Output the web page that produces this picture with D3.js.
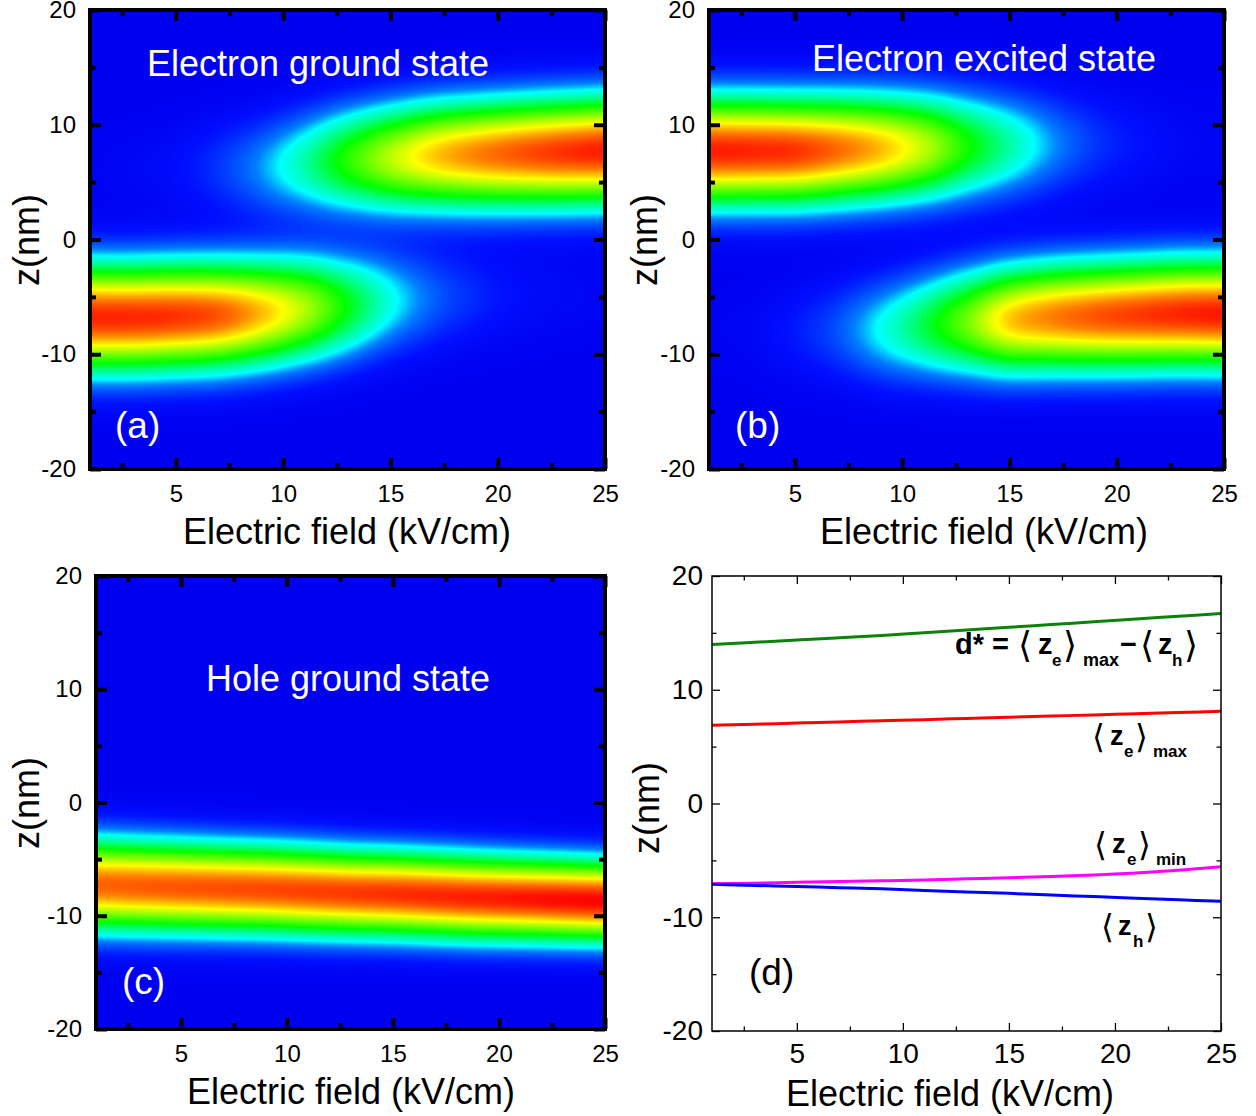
<!DOCTYPE html>
<html><head><meta charset="utf-8">
<script src="https://cdn.jsdelivr.net/npm/d3@7"></script>
<style>
body{margin:0;background:#fff}
svg{display:block}
text{font-family:"Liberation Sans",Arial,Helvetica,sans-serif}
</style>
</head><body>
<svg id="chart" width="1256" height="1116"></svg>
<script>
// ---------------- DATA ----------------
const fieldKV = [1, 3, 5, 7, 9, 11, 13, 15, 17, 19, 21, 23, 25];

// (a) Electron ground state: lower-well and upper-well lobes (peak density, centre z, width)
const aLowerAmp = [0.95, 0.945, 0.93, 0.88, 0.74, 0.56, 0.34, 0.17, 0.08, 0.04, 0.02, 0.012, 0.008];
const aLowerZ   = [-6.8, -6.8, -6.7, -6.6, -6.4, -6.1, -5.8, -5.4, -5.1, -4.9, -4.8, -4.7, -4.6];
const aUpperAmp = [0.005, 0.01, 0.02, 0.05, 0.11, 0.22, 0.39, 0.57, 0.72, 0.815, 0.88, 0.93, 0.96];
const aUpperZ   = [6.0, 6.0, 6.1, 6.2, 6.3, 6.6, 6.9, 7.1, 7.3, 7.4, 7.5, 7.6, 7.7];
const aWidth    = [2.8, 2.8, 2.8, 2.8, 2.8, 2.8, 2.8, 2.8, 2.8, 2.8, 2.8, 2.8, 2.8];

// (b) Electron excited state
const bUpperAmp = [0.96, 0.95, 0.93, 0.85, 0.74, 0.58, 0.37, 0.22, 0.11, 0.05, 0.025, 0.012, 0.008];
const bUpperZ   = [7.7, 7.7, 7.7, 7.8, 7.9, 8.0, 8.1, 8.2, 8.3, 8.4, 8.4, 8.4, 8.4];
const bLowerAmp = [0.005, 0.01, 0.03, 0.07, 0.16, 0.29, 0.48, 0.72, 0.82, 0.88, 0.92, 0.95, 0.97];
const bLowerZ   = [-8.0, -8.0, -8.0, -7.9, -7.8, -7.5, -7.2, -7.0, -6.8, -6.7, -6.6, -6.5, -6.5];
const bWidth    = [2.8, 2.8, 2.8, 2.8, 2.8, 2.8, 2.8, 2.8, 2.8, 2.8, 2.8, 2.8, 2.8];

// (c) Hole ground state
const cAmp   = [0.86, 0.87, 0.88, 0.89, 0.90, 0.91, 0.92, 0.935, 0.95, 0.96, 0.975, 0.99, 1.0];
const cZ     = [-7.3, -7.4, -7.5, -7.6, -7.7, -7.85, -8.0, -8.1, -8.25, -8.4, -8.5, -8.6, -8.7];
const cWidth = [2.4, 2.38, 2.36, 2.33, 2.31, 2.29, 2.26, 2.24, 2.22, 2.2, 2.17, 2.15, 2.13];

// (d) mean positions (nm)
const dStar = [13.97, 14.17, 14.37, 14.57, 14.77, 15.02, 15.26, 15.49, 15.74, 15.97, 16.22, 16.46, 16.7];
const zeMax = [6.87, 6.97, 7.07, 7.17, 7.27, 7.37, 7.48, 7.59, 7.69, 7.79, 7.90, 8.00, 8.10];
const zeMin = [-7.05, -7.0, -6.92, -6.86, -6.8, -6.72, -6.62, -6.52, -6.42, -6.28, -6.1, -5.87, -5.57];
const zh    = [-7.1, -7.2, -7.3, -7.4, -7.5, -7.65, -7.78, -7.9, -8.05, -8.18, -8.32, -8.46, -8.6];

// ticks
const xMajor = [5, 10, 15, 20, 25];
const xMinor = [2.5, 7.5, 12.5, 17.5, 22.5];
const yMajor = [-20, -10, 0, 10, 20];
const yMinor = [-15, -5, 5, 15];

// colour map (jet-like rainbow)
const cmapStops  = [0, 0.025, 0.1, 0.15, 0.346, 0.655, 0.815, 1.0];
const cmapColors = ["#0000f0", "#0010ff", "#0080ff", "#00ffff", "#00ff00", "#ffff00", "#ff8000", "#ff0000"];

// ---------------- DRAWING ----------------
const svg = d3.select("#chart");
const FONT = '"Liberation Sans",Arial,Helvetica,sans-serif';
const color = d3.scaleLinear().domain(cmapStops).range(cmapColors).clamp(true);
const LUT = d3.range(1001).map(i => d3.rgb(color(i / 1000)));

function smoothAt(arr, E) {
  const t = (E - fieldKV[0]) / (fieldKV[1] - fieldKV[0]);
  let i = Math.floor(t);
  if (i < 0) i = 0;
  if (i > arr.length - 2) i = arr.length - 2;
  const u = Math.min(Math.max(t - i, 0), 1);
  const p0 = arr[Math.max(i - 1, 0)], p1 = arr[i], p2 = arr[i + 1], p3 = arr[Math.min(i + 2, arr.length - 1)];
  return 0.5 * (2 * p1 + (-p0 + p2) * u + (2 * p0 - 5 * p1 + 4 * p2 - p3) * u * u + (-p0 + 3 * p1 - 3 * p2 + p3) * u * u * u);
}

function drawHeat(g, x, y, lobes) {
  const [x0, x1] = x.range();
  const yb = y.range()[0], yt = y.range()[1];
  const w = Math.round(x1 - x0), h = Math.round(yb - yt);
  const cv = document.createElement("canvas");
  cv.width = w; cv.height = h;
  const ctx = cv.getContext("2d");
  const img = ctx.createImageData(w, h);
  for (let i = 0; i < w; i++) {
    const E = x.invert(x0 + i + 0.5);
    const pars = lobes.map(l => ({
      a: Math.max(0, smoothAt(l.amp, E)),
      c: smoothAt(l.center, E),
      s: smoothAt(l.width, E)
    }));
    for (let j = 0; j < h; j++) {
      const z = y.invert(yt + j + 0.5);
      let v = 0;
      for (const p of pars) { const d = z - p.c; v += p.a * Math.exp(-d * d / (2 * p.s * p.s)); }
      const c = LUT[Math.max(0, Math.min(1000, Math.round(v * 1000)))];
      const k = (j * w + i) * 4;
      img.data[k] = c.r; img.data[k + 1] = c.g; img.data[k + 2] = c.b; img.data[k + 3] = 255;
    }
  }
  ctx.putImageData(img, 0, 0);
  g.append("image").attr("x", x0).attr("y", yt).attr("width", w).attr("height", h)
    .attr("preserveAspectRatio", "none").attr("href", cv.toDataURL());
}

function drawAxes(g, x, y, o) {
  const [x0, x1] = x.range();
  const yb = y.range()[0], yt = y.range()[1];
  const fmt = d => String(d);
  const style = sel => {
    sel.select(".domain").remove();
    sel.selectAll("line").attr("stroke", "#000").attr("stroke-width", o.tickW);
    sel.selectAll("text").attr("fill", "#000").style("font-family", FONT).style("font-size", o.fs + "px");
  };
  g.append("g").attr("transform", `translate(0,${yb})`)
    .call(d3.axisBottom(x).tickValues(xMajor).tickSizeInner(-o.maj).tickSizeOuter(0).tickPadding(o.padX).tickFormat(fmt)).call(style);
  g.append("g").attr("transform", `translate(0,${yb})`)
    .call(d3.axisBottom(x).tickValues(xMinor).tickSizeInner(-o.min).tickSizeOuter(0).tickFormat("")).call(style);
  g.append("g").attr("transform", `translate(0,${yt})`)
    .call(d3.axisTop(x).tickValues(xMajor).tickSizeInner(-o.maj).tickSizeOuter(0).tickFormat("")).call(style);
  g.append("g").attr("transform", `translate(0,${yt})`)
    .call(d3.axisTop(x).tickValues(xMinor).tickSizeInner(-o.min).tickSizeOuter(0).tickFormat("")).call(style);
  g.append("g").attr("transform", `translate(${x0},0)`)
    .call(d3.axisLeft(y).tickValues(yMajor).tickSizeInner(-o.maj).tickSizeOuter(0).tickPadding(o.padY).tickFormat(fmt)).call(style);
  g.append("g").attr("transform", `translate(${x0},0)`)
    .call(d3.axisLeft(y).tickValues(yMinor).tickSizeInner(-o.min).tickSizeOuter(0).tickFormat("")).call(style);
  g.append("g").attr("transform", `translate(${x1},0)`)
    .call(d3.axisRight(y).tickValues(yMajor).tickSizeInner(-o.maj).tickSizeOuter(0).tickFormat("")).call(style);
  g.append("g").attr("transform", `translate(${x1},0)`)
    .call(d3.axisRight(y).tickValues(yMinor).tickSizeInner(-o.min).tickSizeOuter(0).tickFormat("")).call(style);
  g.append("rect").attr("x", x0).attr("y", yt).attr("width", x1 - x0).attr("height", yb - yt)
    .attr("fill", "none").attr("stroke", "#000").attr("stroke-width", o.frameW);
}

function titles(g, xt, yt) {
  g.append("text").attr("x", xt.x).attr("y", xt.y).attr("text-anchor", "middle")
    .style("font-size", "36px").attr("fill", "#000").text("Electric field (kV/cm)");
  g.append("text").attr("transform", `translate(${yt.x},${yt.y}) rotate(-90)`).attr("text-anchor", "middle")
    .style("font-size", "36px").attr("fill", "#000").text("z(nm)");
}

const heatAxis = {tickW: 4, maj: 11, min: 6, fs: 24, padX: 16, padY: 14, frameW: 4};

const panels = [
  {x: [90, 605], y: [469, 10], lobes: [
      {amp: aLowerAmp, center: aLowerZ, width: aWidth},
      {amp: aUpperAmp, center: aUpperZ, width: aWidth}],
   title: "Electron ground state", tx: 318, ty: 76, tag: "(a)", gx: 115, gy: 438,
   xt: {x: 347, y: 544}, yt: {x: 39, y: 240}},
  {x: [709, 1224], y: [469, 10], lobes: [
      {amp: bUpperAmp, center: bUpperZ, width: bWidth},
      {amp: bLowerAmp, center: bLowerZ, width: bWidth}],
   title: "Electron excited state", tx: 984, ty: 71, tag: "(b)", gx: 735, gy: 438,
   xt: {x: 984, y: 544}, yt: {x: 657, y: 240}},
  {x: [96, 605], y: [1029, 576], lobes: [
      {amp: cAmp, center: cZ, width: cWidth}],
   title: "Hole ground state", tx: 348, ty: 691, tag: "(c)", gx: 122, gy: 994,
   xt: {x: 351, y: 1104}, yt: {x: 39, y: 803}}
];

panels.forEach(p => {
  const x = d3.scaleLinear().domain([1, 25]).range(p.x);
  const y = d3.scaleLinear().domain([-20, 20]).range(p.y);
  const g = svg.append("g");
  drawHeat(g, x, y, p.lobes);
  g.append("text").attr("x", p.tx).attr("y", p.ty).attr("text-anchor", "middle")
    .style("font-size", "36px").attr("fill", "#fff").text(p.title);
  g.append("text").attr("x", p.gx).attr("y", p.gy)
    .style("font-size", "37px").attr("fill", "#fff").text(p.tag);
  drawAxes(g, x, y, heatAxis);
  titles(g, p.xt, p.yt);
});

// ---- panel (d)
{
  const x = d3.scaleLinear().domain([1, 25]).range([712, 1221]);
  const y = d3.scaleLinear().domain([-20, 20]).range([1031, 576]);
  const g = svg.append("g");
  g.append("clipPath").attr("id", "clipd").append("rect")
    .attr("x", 712).attr("y", 576).attr("width", 509).attr("height", 455);
  const line = d3.line().x((d, i) => x(fieldKV[i])).y(d => y(d)).curve(d3.curveMonotoneX);
  const series = [
    {v: dStar, c: "#0b830b"},
    {v: zeMax, c: "#ff0000"},
    {v: zeMin, c: "#ff00ff"},
    {v: zh, c: "#0000ff"}
  ];
  g.append("g").attr("clip-path", "url(#clipd)").selectAll("path").data(series).join("path")
    .attr("d", s => line(s.v)).attr("fill", "none").attr("stroke", s => s.c).attr("stroke-width", 3);
  drawAxes(g, x, y, {tickW: 1.3, maj: 8, min: 4.5, fs: 28, padX: 12, padY: 9, frameW: 1.5});
  titles(g, {x: 950, y: 1106}, {x: 659, y: 808});
  g.append("text").attr("x", 749).attr("y", 985).style("font-size", "37px").attr("fill", "#000").text("(d)");

  const BR = '"DejaVu Sans",sans-serif';
  function piece(t, px, py, fs, bold, fam) {
    g.append("text").attr("x", px).attr("y", py).style("font-size", fs + "px")
      .style("font-weight", bold ? "bold" : "normal").style("font-family", fam || FONT)
      .attr("fill", "#000").text(t);
  }
  // d* = <z_e>_max - <z_h>
  piece("d* =", 955, 654, 29, true);
  piece("\u27E8", 1018, 657, 36, false, BR);
  piece("z", 1038, 654, 29, true);
  piece("e", 1052, 666, 17, true);
  piece("\u27E9", 1063, 657, 36, false, BR);
  piece("max", 1083, 666, 18, true);
  piece("\u2212", 1120, 654, 29, true);
  piece("\u27E8", 1140, 657, 36, false, BR);
  piece("z", 1158, 654, 29, true);
  piece("h", 1172, 666, 17, true);
  piece("\u27E9", 1184, 657, 36, false, BR);
  // <z_e>_max
  piece("\u27E8", 1092, 748, 33, false, BR);
  piece("z", 1110, 745, 27, true);
  piece("e", 1124, 757, 17, true);
  piece("\u27E9", 1135, 748, 33, false, BR);
  piece("max", 1153, 757, 17, true);
  // <z_e>_min
  piece("\u27E8", 1094, 856, 33, false, BR);
  piece("z", 1112, 853, 27, true);
  piece("e", 1127, 865, 17, true);
  piece("\u27E9", 1138, 856, 33, false, BR);
  piece("min", 1156, 865, 17, true);
  // <z_h>
  piece("\u27E8", 1101, 938, 33, false, BR);
  piece("z", 1118, 935, 27, true);
  piece("h", 1133, 947, 17, true);
  piece("\u27E9", 1145, 938, 33, false, BR);
}
</script>
</body></html>
